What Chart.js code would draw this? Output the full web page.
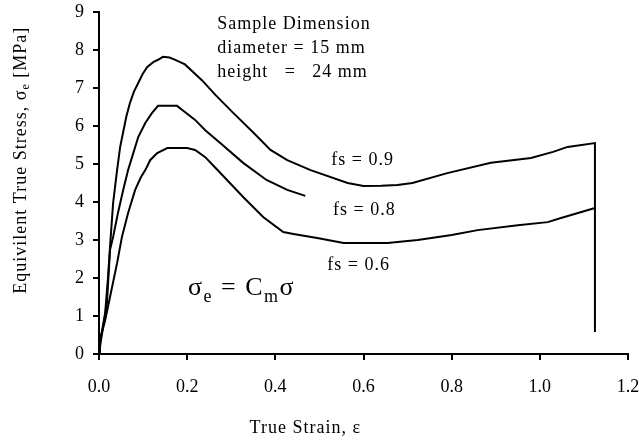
<!DOCTYPE html>
<html>
<head>
<meta charset="utf-8">
<script src="https://cdn.jsdelivr.net/npm/chart.js@4"></script>
<style>
  body { margin: 0; background: #fff; }
</style>
</head>
<body>
<canvas id="stressChart" width="639" height="440"></canvas>
<script>
// True strain / equivalent stress curves
const fs09 = [
  [0, 0], [0.002, 0.29], [0.014, 1.08], [0.02, 1.95], [0.025, 2.82], [0.032, 3.97],
  [0.041, 4.84], [0.048, 5.45], [0.055, 5.85], [0.062, 6.25], [0.07, 6.6], [0.079, 6.9],
  [0.089, 7.13], [0.099, 7.37], [0.109, 7.55], [0.123, 7.68], [0.135, 7.75], [0.145, 7.82],
  [0.16, 7.8], [0.173, 7.74], [0.195, 7.62], [0.234, 7.2], [0.264, 6.82], [0.305, 6.34],
  [0.35, 5.83], [0.389, 5.37], [0.427, 5.1], [0.48, 4.84], [0.564, 4.5], [0.6, 4.42],
  [0.64, 4.43], [0.677, 4.45], [0.711, 4.5], [0.79, 4.76], [0.889, 5.03], [0.98, 5.16],
  [1.03, 5.32], [1.063, 5.45], [1.125, 5.55], [1.125, 0.58]
];
const fs08 = [
  [0, 0], [0.005, 0.4], [0.012, 0.9], [0.018, 1.34], [0.025, 2.74], [0.032, 3.08],
  [0.043, 3.71], [0.055, 4.32], [0.066, 4.84], [0.075, 5.18], [0.089, 5.71], [0.105, 6.08],
  [0.12, 6.34], [0.134, 6.53], [0.177, 6.53], [0.189, 6.42], [0.218, 6.16], [0.241, 5.89],
  [0.275, 5.55], [0.327, 5.03], [0.38, 4.58], [0.427, 4.32], [0.468, 4.16]
];
const fs06 = [
  [0, 0], [0.002, 0.37], [0.014, 0.89], [0.025, 1.5], [0.041, 2.39], [0.052, 3.08],
  [0.066, 3.71], [0.082, 4.32], [0.095, 4.65], [0.105, 4.84], [0.116, 5.1], [0.132, 5.29],
  [0.155, 5.42], [0.2, 5.42], [0.218, 5.37], [0.241, 5.18], [0.264, 4.9], [0.327, 4.13],
  [0.373, 3.6], [0.418, 3.21], [0.441, 3.16], [0.495, 3.05], [0.555, 2.92], [0.6, 2.92],
  [0.655, 2.92], [0.677, 2.95], [0.723, 3.0], [0.8, 3.13], [0.859, 3.26], [0.95, 3.39],
  [1.018, 3.47], [1.048, 3.58], [1.125, 3.84]
];

// text notes placed at data coordinates
const curveLabels = [
  { text: 'fs = 0.9', x: 0.598, y: 5.1 },
  { text: 'fs = 0.8', x: 0.602, y: 3.79 },
  { text: 'fs = 0.6', x: 0.589, y: 2.34 }
];
const sampleNotes = ['Sample Dimension', 'diameter = 15 mm', 'height   =   24 mm'];

const SERIF = '"Liberation Serif", "Times New Roman", serif';
const toXY = arr => arr.map(p => ({ x: p[0], y: p[1] }));

function lineSet(label, pts) {
  return {
    label: label,
    data: toXY(pts),
    showLine: true,
    borderColor: '#000',
    borderWidth: 2,
    pointRadius: 0,
    tension: 0,
    fill: false
  };
}

// draws the annotations, equation and axis titles (with subscripts)
const notesPlugin = {
  id: 'notes',
  afterDraw(chart) {
    const ctx = chart.ctx;
    const xs = chart.scales.x, ys = chart.scales.y;
    ctx.save();
    ctx.fillStyle = '#000';
    ctx.letterSpacing = '1px';

    // sample dimension block
    ctx.font = '18px ' + SERIF;
    ctx.textAlign = 'left';
    ctx.textBaseline = 'middle';
    sampleNotes.forEach((t, i) => {
      ctx.fillText(t, xs.getPixelForValue(0.268), ys.getPixelForValue(8.68) + i * 24);
    });

    // curve labels
    ctx.textAlign = 'center';
    curveLabels.forEach(l => {
      ctx.fillText(l.text, xs.getPixelForValue(l.x), ys.getPixelForValue(l.y));
    });

    // equation  σe = Cmσ
    ctx.letterSpacing = '1.5px';
    let ex = xs.getPixelForValue(0.202);
    const ey = ys.getPixelForValue(1.55);
    ctx.textAlign = 'left';
    ctx.textBaseline = 'alphabetic';
    const big = '26px ' + SERIF, small = '18px ' + SERIF;
    const parts = [
      ['σ', big, 0], ['e', small, 7], [' = C', big, 0], ['m', small, 7], ['σ', big, 0]
    ];
    parts.forEach(p => {
      ctx.font = p[1];
      ctx.fillText(p[0], ex, ey + p[2]);
      ex += ctx.measureText(p[0]).width;
    });

    // x title
    ctx.letterSpacing = '1px';
    ctx.font = '18px ' + SERIF;
    ctx.textAlign = 'center';
    ctx.textBaseline = 'middle';
    ctx.fillText('True Strain, ε', xs.getPixelForValue(0.468), 428);

    // y title, rotated, with subscript e
    ctx.translate(20, ys.getPixelForValue(5.1));
    ctx.rotate(-Math.PI / 2);
    const ySegs = [
      ['Equivilent True Stress, σ', '18px ' + SERIF, 0],
      ['e', '12px ' + SERIF, 3],
      [' [MPa]', '18px ' + SERIF, 0]
    ];
    let total = 0;
    ySegs.forEach(s => { ctx.font = s[1]; total += ctx.measureText(s[0]).width; });
    let tx = -total / 2;
    ctx.textAlign = 'left';
    ctx.textBaseline = 'alphabetic';
    ySegs.forEach(s => {
      ctx.font = s[1];
      ctx.fillText(s[0], tx, 6 + s[2]);
      tx += ctx.measureText(s[0]).width;
    });
    ctx.restore();
  }
};

const axisStyle = {
  border: { display: true, color: '#000', width: 2 },
  grid: { display: true, drawOnChartArea: false, drawTicks: true, tickLength: 6, color: '#000', lineWidth: 2 }
};

new Chart(document.getElementById('stressChart').getContext('2d'), {
  type: 'scatter',
  data: {
    datasets: [
      lineSet('fs = 0.9', fs09),
      lineSet('fs = 0.8', fs08),
      lineSet('fs = 0.6', fs06)
    ]
  },
  options: {
    responsive: false,
    animation: false,
    layout: { padding: { top: 12, right: 11, left: 0, bottom: 0 } },
    plugins: {
      legend: { display: false },
      tooltip: { enabled: false }
    },
    scales: {
      x: {
        type: 'linear',
        min: 0,
        max: 1.2,
        ...axisStyle,
        ticks: {
          stepSize: 0.2,
          padding: 16,
          color: '#000',
          font: { family: SERIF, size: 18 },
          maxRotation: 0,
          callback: v => v.toFixed(1)
        },
        afterFit: s => { s.height = 86; s.paddingLeft = 0; s.paddingRight = 0; }
      },
      y: {
        type: 'linear',
        min: 0,
        max: 9,
        ...axisStyle,
        ticks: {
          stepSize: 1,
          padding: 9,
          color: '#000',
          font: { family: SERIF, size: 18 }
        },
        afterFit: s => { s.width = 99; s.paddingTop = 0; s.paddingBottom = 0; }
      }
    }
  },
  plugins: [notesPlugin]
});
</script>
</body>
</html>
